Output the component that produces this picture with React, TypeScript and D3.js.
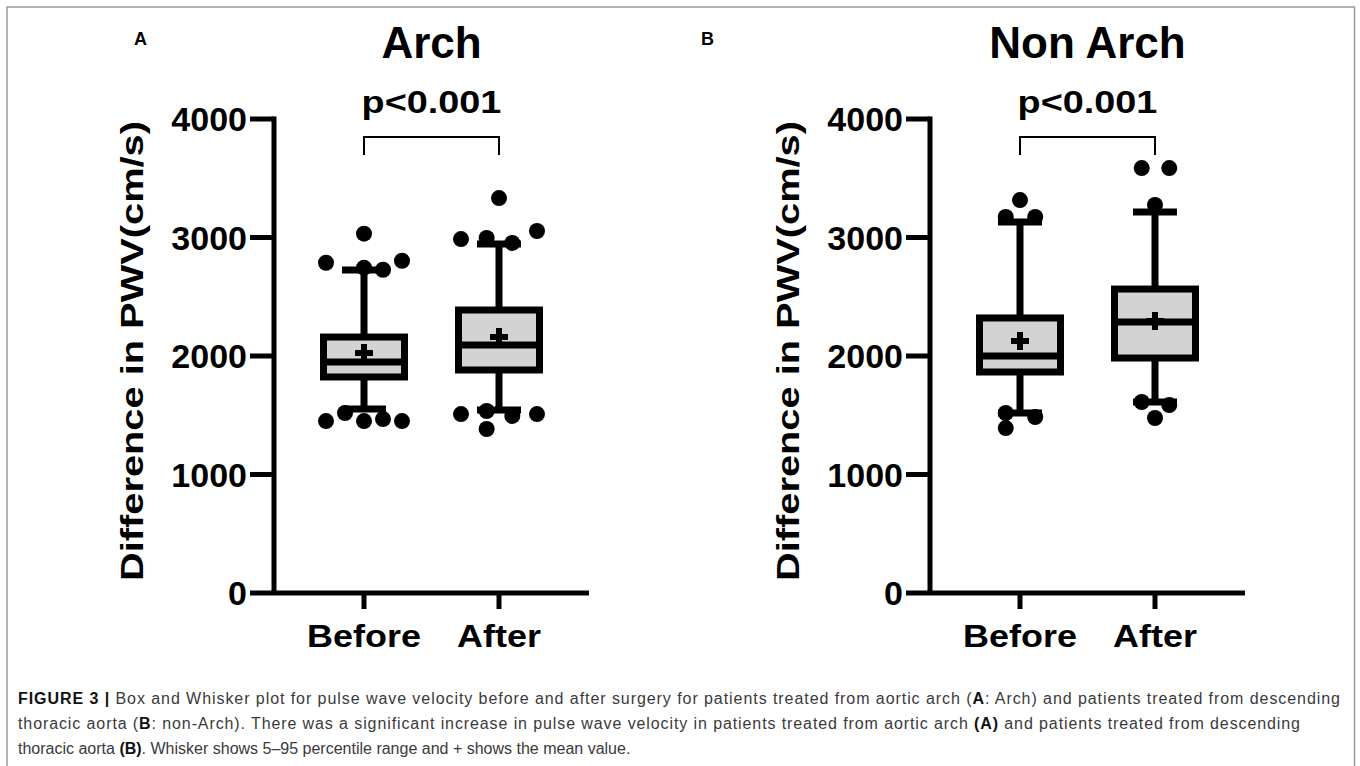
import * as d3 from 'd3'

const CATEGORIES = ['Before', 'After']
const Y_TICKS = [0, 1000, 2000, 3000, 4000]

// Arch (panel A)
const ARCH_P5 = [1553, 1544]
const ARCH_Q1 = [1823, 1882]
const ARCH_MEDIAN = [1949, 2093]
const ARCH_Q3 = [2160, 2388]
const ARCH_P95 = [2726, 2945]
const ARCH_MEAN = [2025, 2160]
const ARCH_BEFORE_OUT = [3032, 2787, 2804, 2745, 2728, 1451, 1519, 1451, 1468, 1451]
const ARCH_BEFORE_SLOT = [0, -2, 2, 0, 1, -2, -1, 0, 1, 2]
const ARCH_AFTER_OUT = [3333, 2987, 2996, 2954, 3055, 1510, 1536, 1494, 1510, 1384]
const ARCH_AFTER_SLOT = [0, -2, -0.65, 0.7, 2, -2, -0.65, 0.7, 2, -0.65]

// Non Arch (panel B)
const NONARCH_P5 = [1519, 1612]
const NONARCH_Q1 = [1865, 1983]
const NONARCH_MEDIAN = [2000, 2287]
const NONARCH_Q3 = [2321, 2565]
const NONARCH_P95 = [3131, 3215]
const NONARCH_MEAN = [2127, 2295]
const NONARCH_BEFORE_OUT = [3316, 3173, 3173, 1519, 1485, 1392]
const NONARCH_BEFORE_SLOT = [0, -0.75, 0.8, -0.75, 0.8, -0.75]
const NONARCH_AFTER_OUT = [3586, 3586, 3274, 1612, 1586, 1477]
const NONARCH_AFTER_SLOT = [-0.7, 0.75, 0, -0.7, 0.75, 0]

const CAPTION = [
  [
    { t: 'FIGURE 3 | ', b: true },
    { t: 'Box and Whisker plot for pulse wave velocity before and after surgery for patients treated from aortic arch (' },
    { t: 'A', b: true },
    { t: ': Arch) and patients treated from descending' },
  ],
  [
    { t: 'thoracic aorta (' },
    { t: 'B', b: true },
    { t: ': non-Arch). There was a significant increase in pulse wave velocity in patients treated from aortic arch ' },
    { t: '(A)', b: true },
    { t: ' and patients treated from descending' },
  ],
  [
    { t: 'thoracic aorta ' },
    { t: '(B)', b: true },
    { t: '. Whisker shows 5\u201395 percentile range and + shows the mean value.' },
  ],
]
const CAPTION_WIDTHS = [1322, 1282, null]

const FONT = '"Liberation Sans", Arial, sans-serif'

const panels = [
  {
    letter: 'A', title: 'Arch', x0: 274,
    p5: ARCH_P5, q1: ARCH_Q1, med: ARCH_MEDIAN, q3: ARCH_Q3, p95: ARCH_P95, mean: ARCH_MEAN,
    out: [ARCH_BEFORE_OUT, ARCH_AFTER_OUT], slot: [ARCH_BEFORE_SLOT, ARCH_AFTER_SLOT],
  },
  {
    letter: 'B', title: 'Non Arch', x0: 930,
    p5: NONARCH_P5, q1: NONARCH_Q1, med: NONARCH_MEDIAN, q3: NONARCH_Q3, p95: NONARCH_P95, mean: NONARCH_MEAN,
    out: [NONARCH_BEFORE_OUT, NONARCH_AFTER_OUT], slot: [NONARCH_BEFORE_SLOT, NONARCH_AFTER_SLOT],
  },
]

const y = d3.scaleLinear().domain([0, 4000]).range([593, 119])
const slotX = d3.scaleLinear().domain([-1, 1]).range([-19, 19])
const plus = d3.symbol(d3.symbolCross, 180)()

function Panel({ p }: { p: any }) {
  const x = d3.scalePoint<string>().domain(CATEGORIES).range([p.x0 + 90, p.x0 + 225])
  const xEnd = p.x0 + 315
  const boxW = 81
  const capW = 44
  const xa = x('Before')!
  const xb = x('After')!
  const mid = (xa + xb) / 2
  return (
    <g>
      <text x={p.letter === 'A' ? 134 : 701} y={45} fontSize={18} fontWeight="bold" fontFamily={FONT}>
        {p.letter}
      </text>
      <text x={mid} y={58} textAnchor="middle" fontSize={44} fontWeight="bold" fontFamily={FONT}>
        {p.title}
      </text>
      <text transform={`translate(${mid},113) scale(1.22,1)`} textAnchor="middle" fontSize={31} fontWeight="bold" fontFamily={FONT}>
        p&lt;0.001
      </text>
      <path d={`M${xa},155V137H${xb}V155`} fill="none" stroke="#000" strokeWidth={2} />

      {/* y axis */}
      <text
        transform={`translate(${p.x0 - 131},351) rotate(-90)`}
        textAnchor="middle" fontSize={31} fontWeight="bold" fontFamily={FONT}
        textLength={460} lengthAdjust="spacingAndGlyphs"
      >
        Difference in PWV(cm/s)
      </text>
      <line x1={p.x0} x2={p.x0} y1={y(4000) - 2.5} y2={y(0)} stroke="#000" strokeWidth={5} />
      {Y_TICKS.map((t) => (
        <g key={t}>
          <line x1={p.x0 - 24} x2={p.x0} y1={y(t)} y2={y(t)} stroke="#000" strokeWidth={5} />
          <text x={p.x0 - 27} y={y(t) + 12} textAnchor="end" fontSize={34} fontWeight="bold" fontFamily={FONT}>
            {t}
          </text>
        </g>
      ))}

      {/* x axis */}
      <line x1={p.x0} x2={xEnd} y1={y(0)} y2={y(0)} stroke="#000" strokeWidth={5} />
      {CATEGORIES.map((c) => (
        <g key={c}>
          <line x1={x(c)} x2={x(c)} y1={y(0)} y2={y(0) + 16} stroke="#000" strokeWidth={5} />
          <text transform={`translate(${x(c)},647) scale(1.16,1)`} textAnchor="middle" fontSize={31} fontWeight="bold" fontFamily={FONT}>
            {c}
          </text>
        </g>
      ))}

      {/* boxes */}
      {CATEGORIES.map((c, i) => {
        const cx = x(c)!
        return (
          <g key={c}>
            <line x1={cx} x2={cx} y1={y(p.p95[i])} y2={y(p.q3[i])} stroke="#000" strokeWidth={7} />
            <line x1={cx} x2={cx} y1={y(p.q1[i])} y2={y(p.p5[i])} stroke="#000" strokeWidth={7} />
            <line x1={cx - capW / 2} x2={cx + capW / 2} y1={y(p.p95[i])} y2={y(p.p95[i])} stroke="#000" strokeWidth={7} />
            <line x1={cx - capW / 2} x2={cx + capW / 2} y1={y(p.p5[i])} y2={y(p.p5[i])} stroke="#000" strokeWidth={7} />
            <rect
              x={cx - boxW / 2} width={boxW}
              y={y(p.q3[i])} height={y(p.q1[i]) - y(p.q3[i])}
              fill="#d3d3d3" stroke="#000" strokeWidth={7}
            />
            <line x1={cx - boxW / 2} x2={cx + boxW / 2} y1={y(p.med[i])} y2={y(p.med[i])} stroke="#000" strokeWidth={7} />
            <path d={plus!} transform={`translate(${cx},${y(p.mean[i])})`} fill="#000" />
            {p.out[i].map((v: number, j: number) => (
              <circle key={j} cx={cx + slotX(p.slot[i][j])} cy={y(v)} r={8} fill="#000" />
            ))}
          </g>
        )
      })}
    </g>
  )
}

export default function App() {
  return (
    <svg width={1360} height={766} style={{ position: 'absolute', left: 0, top: 0, background: '#fff' }}>
      <rect x={0} y={0} width={1360} height={766} fill="#fff" />
      <rect x={7} y={7} width={1347.5} height={820} fill="none" stroke="#9a9a9a" strokeWidth={1.5} />
      {panels.map((p) => (
        <Panel key={p.letter} p={p} />
      ))}
      {CAPTION.map((line, i) => (
        <text
          key={i} x={18} y={704 + i * 25} fontSize={16} fill="#3a3a3a" fontFamily={FONT}
          textLength={CAPTION_WIDTHS[i] ?? undefined} lengthAdjust="spacing"
        >
          {line.map((s: any, k) => (
            <tspan key={k} fontWeight={s.b ? 'bold' : 'normal'} fill={s.b ? '#111' : '#3a3a3a'}>
              {s.t}
            </tspan>
          ))}
        </text>
      ))}
    </svg>
  )
}
